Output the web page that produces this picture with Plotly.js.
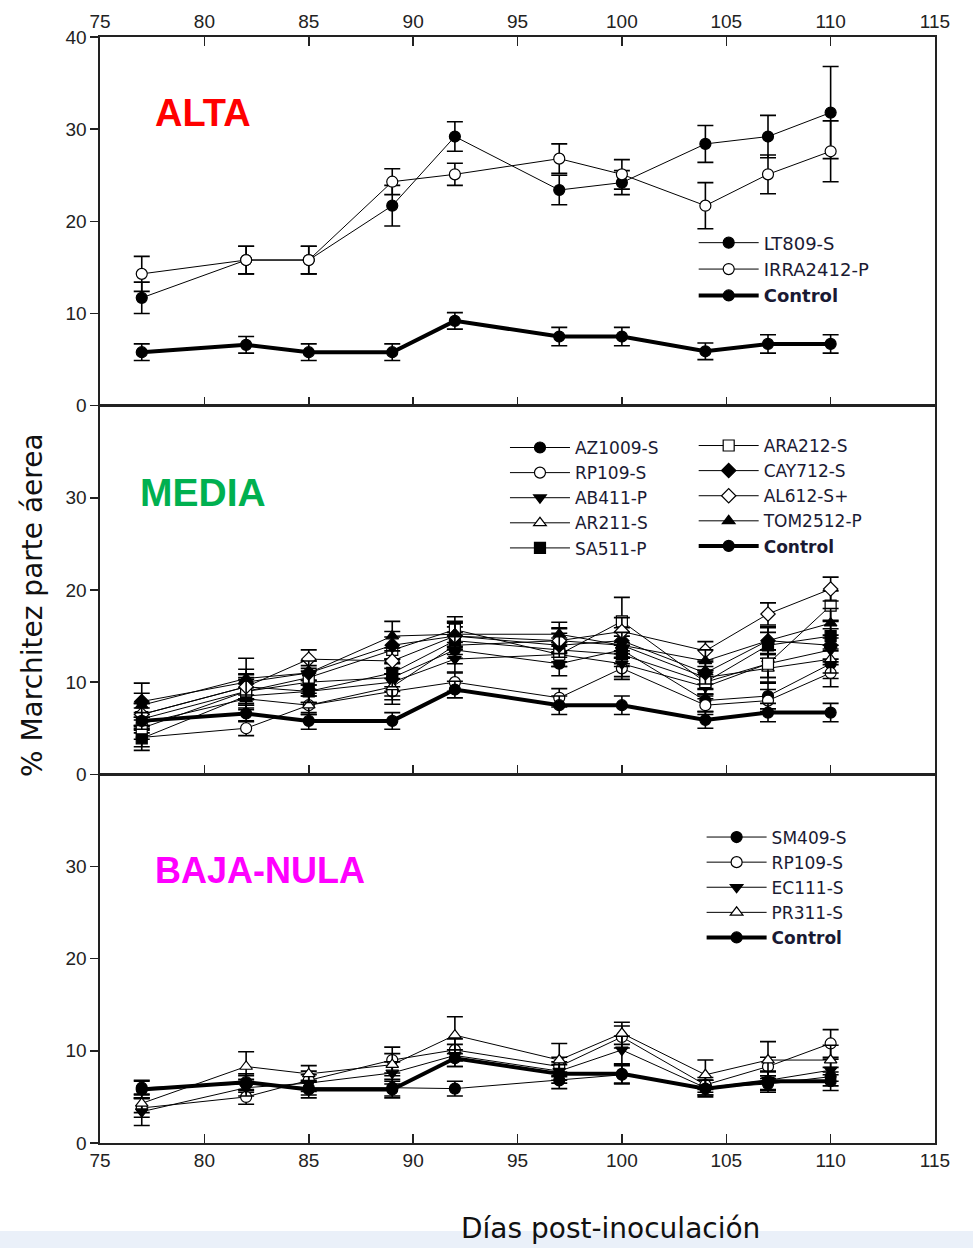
<!DOCTYPE html>
<html>
<head>
<meta charset="utf-8">
<script src="https://cdn.plot.ly/plotly-3.0.1.min.js"></script>
<style>html,body{margin:0;padding:0;background:#fff}#chart{width:973px;height:1248px}</style>
</head>
<body>
<div id="chart"></div>
<script>
// ---------- DATA ----------
const days = [77, 82, 85, 89, 92, 97, 100, 104, 107, 110];

// Control (same in every panel)
const control    = [5.8, 6.6, 5.8, 5.8, 9.2, 7.5, 7.5, 5.9, 6.7, 6.7];
const controlErr = [0.9, 0.9, 0.9, 0.9, 0.9, 1.0, 1.0, 0.9, 1.0, 1.0];

// Panel ALTA
const lt809      = [11.7, 15.8, 15.8, 21.7, 29.2, 23.4, 24.2, 28.4, 29.2, 31.8];
const lt809Err   = [1.7, 1.5, 1.5, 2.2, 1.6, 1.6, 1.3, 2.0, 2.3, 5.0];
const irra2412   = [14.3, 15.8, 15.8, 24.3, 25.1, 26.8, 25.1, 21.7, 25.1, 27.6];
const irra2412Err= [1.9, 1.5, 1.5, 1.4, 1.2, 1.6, 1.6, 2.5, 2.1, 3.3];

// Panel MEDIA
const az1009     = [6.0, 9.0, 10.0, 10.5, 13.5, 12.0, 13.5, 8.0, 8.5, 12.0];
const az1009Err  = [1.2, 1.5, 1.2, 1.5, 1.5, 1.3, 1.5, 1.2, 1.4, 1.6];
const rp109m     = [4.0, 5.0, 7.5, 9.0, 10.0, 8.3, 11.5, 7.5, 8.0, 11.0];
const rp109mErr  = [1.0, 0.8, 1.0, 1.4, 1.0, 1.0, 1.2, 1.0, 1.2, 1.5];
const ab411      = [6.5, 9.5, 9.0, 10.0, 12.5, 13.0, 12.0, 9.5, 12.0, 13.5];
const ab411Err   = [1.2, 1.4, 1.2, 1.5, 1.4, 1.3, 1.4, 1.3, 1.5, 1.6];
const ar211      = [5.5, 8.2, 7.5, 9.5, 14.0, 14.5, 14.0, 10.5, 11.5, 12.5];
const ar211Err   = [1.0, 1.2, 1.0, 1.4, 1.4, 1.3, 1.4, 1.2, 1.5, 1.5];
const sa511      = [3.9, 8.5, 9.0, 11.0, 14.5, 13.5, 13.0, 10.0, 14.0, 15.0];
const sa511Err   = [1.3, 1.3, 1.2, 1.5, 1.5, 1.3, 1.3, 1.3, 1.4, 1.6];
const ara212     = [5.0, 9.0, 10.5, 13.5, 15.7, 13.0, 16.6, 10.0, 12.0, 18.3];
const ara212Err  = [1.2, 1.3, 1.3, 1.4, 1.4, 1.3, 2.6, 1.3, 1.5, 1.6];
const cay712     = [7.9, 10.0, 11.0, 14.0, 15.0, 14.0, 14.5, 11.0, 14.5, 14.0];
const cay712Err  = [2.0, 1.4, 1.3, 1.5, 1.4, 1.3, 1.4, 1.2, 1.4, 1.8];
const al612      = [6.5, 9.5, 12.5, 12.3, 15.0, 14.5, 15.5, 13.4, 17.4, 20.1];
const al612Err   = [1.2, 1.3, 1.0, 1.4, 1.5, 1.4, 1.5, 1.0, 1.2, 1.3];
const tom2512    = [7.5, 10.4, 11.0, 15.0, 15.2, 15.2, 14.0, 12.3, 14.5, 16.4];
const tom2512Err = [1.3, 2.2, 1.3, 1.6, 1.4, 1.3, 1.4, 1.2, 1.5, 1.6];

// Panel BAJA-NULA
const sm409      = [6.0, 6.4, 6.0, 6.0, 5.9, 6.8, 7.4, 6.0, 6.4, 7.2];
const sm409Err   = [0.8, 0.9, 0.8, 0.9, 0.8, 0.9, 1.0, 0.8, 0.9, 1.0];
const rp109b     = [3.8, 5.0, 6.8, 9.0, 10.1, 8.3, 11.5, 6.3, 8.3, 10.8];
const rp109bErr  = [1.0, 0.8, 1.0, 1.4, 1.2, 1.0, 1.2, 0.8, 1.0, 1.5];
const ec111      = [3.4, 6.0, 6.5, 7.6, 9.5, 7.8, 10.1, 6.0, 6.8, 7.9];
const ec111Err   = [1.5, 0.9, 0.9, 1.2, 1.2, 1.0, 1.5, 0.8, 1.0, 1.2];
const pr311      = [4.3, 8.3, 7.5, 8.5, 11.7, 9.0, 11.9, 7.4, 9.0, 9.0];
const pr311Err   = [1.0, 1.6, 0.9, 1.2, 2.0, 1.8, 1.2, 1.6, 2.0, 1.6];

const xTicks = [75, 80, 85, 90, 95, 100, 105, 110, 115];
const yTicksTop = [0, 10, 20, 30, 40];
const yTicksLow = [0, 10, 20, 30];

// ---------- HELPERS ----------
function series(name, y, err, symbol, filled, xa, ya, legend, bold) {
  return {
    type: 'scatter', mode: 'lines+markers', name: bold ? '<b>' + name + '</b>' : name,
    x: days, y: y, xaxis: xa, yaxis: ya, legend: legend,
    line: {color: '#000', width: bold ? 4 : 1},
    marker: {symbol: symbol, size: 11, color: filled ? '#000' : '#fff',
             line: {color: '#000', width: 1.2}},
    error_y: {type: 'data', array: err, visible: true, color: '#000', thickness: 1.6, width: 8},
    hoverinfo: 'skip'
  };
}

const traces = [
  // ALTA
  series('LT809-S', lt809, lt809Err, 'circle', true, 'x3', 'y3', 'legend'),
  series('IRRA2412-P', irra2412, irra2412Err, 'circle', false, 'x3', 'y3', 'legend'),
  series('Control', control, controlErr, 'circle', true, 'x3', 'y3', 'legend', true),
  // MEDIA col 1
  series('AZ1009-S', az1009, az1009Err, 'circle', true, 'x2', 'y2', 'legend2'),
  series('RP109-S', rp109m, rp109mErr, 'circle', false, 'x2', 'y2', 'legend2'),
  series('AB411-P', ab411, ab411Err, 'triangle-down', true, 'x2', 'y2', 'legend2'),
  series('AR211-S', ar211, ar211Err, 'triangle-up', false, 'x2', 'y2', 'legend2'),
  series('SA511-P', sa511, sa511Err, 'square', true, 'x2', 'y2', 'legend2'),
  // MEDIA col 2
  series('ARA212-S', ara212, ara212Err, 'square', false, 'x2', 'y2', 'legend3'),
  series('CAY712-S', cay712, cay712Err, 'diamond', true, 'x2', 'y2', 'legend3'),
  series('AL612-S+', al612, al612Err, 'diamond', false, 'x2', 'y2', 'legend3'),
  series('TOM2512-P', tom2512, tom2512Err, 'triangle-up', true, 'x2', 'y2', 'legend3'),
  series('Control', control, controlErr, 'circle', true, 'x2', 'y2', 'legend3', true),
  // BAJA-NULA
  series('SM409-S', sm409, sm409Err, 'circle', true, 'x', 'y', 'legend4'),
  series('RP109-S', rp109b, rp109bErr, 'circle', false, 'x', 'y', 'legend4'),
  series('EC111-S', ec111, ec111Err, 'triangle-down', true, 'x', 'y', 'legend4'),
  series('PR311-S', pr311, pr311Err, 'triangle-up', false, 'x', 'y', 'legend4'),
  series('Control', control, controlErr, 'circle', true, 'x', 'y', 'legend4', true)
];

const tickFont = {family: '"Liberation Sans Narrow", "Arial Narrow", "Liberation Sans", Arial, sans-serif', size: 19, color: '#222'};
const legFamily = '"DejaVu Sans", "Liberation Sans", Arial, sans-serif';
const titleFont = {family: '"DejaVu Sans", "Liberation Sans", Arial, sans-serif', size: 27, color: '#111'};
const labelFamily = '"Liberation Sans", Arial, sans-serif';

const xBase = {range: [75, 115], tickvals: xTicks, ticks: 'inside', ticklen: 9, tickwidth: 1.5,
  tickcolor: '#222', showline: true, linecolor: '#222', linewidth: 1.6, showgrid: false,
  zeroline: false, tickfont: tickFont, fixedrange: true};
const yBase = {range: [0, 40], ticks: 'outside', ticklen: 8, tickwidth: 1.5, tickcolor: '#222',
  showline: true, linecolor: '#222', linewidth: 1.6, showgrid: false, zeroline: false,
  tickfont: tickFont, mirror: true, fixedrange: true};

function legendAt(x, y, size) {
  return {x: x, y: y, xanchor: 'left', yanchor: 'top', bgcolor: 'rgba(0,0,0,0)',
          borderwidth: 0, font: {family: legFamily, size: size, color: '#1a1a33'},
          itemwidth: 60, tracegroupgap: 0, traceorder: 'normal'};
}

const layout = {
  width: 973, height: 1248,
  margin: {l: 100, r: 38, t: 37, b: 105},
  paper_bgcolor: '#fff', plot_bgcolor: '#fff',
  showlegend: true,
  xaxis: Object.assign({}, xBase, {anchor: 'y', mirror: true, side: 'bottom'}),
  xaxis2: Object.assign({}, xBase, {anchor: 'y2', mirror: true, showticklabels: false, matches: 'x'}),
  xaxis3: Object.assign({}, xBase, {anchor: 'y3', mirror: 'ticks', side: 'top', matches: 'x'}),
  yaxis: Object.assign({}, yBase, {domain: [0, 1/3], tickvals: yTicksLow}),
  yaxis2: Object.assign({}, yBase, {domain: [1/3, 2/3], tickvals: yTicksLow}),
  yaxis3: Object.assign({}, yBase, {domain: [2/3, 1], tickvals: yTicksTop}),
  legend: legendAt(0.711, 0.8305, 18),
  legend2: legendAt(0.485, 0.6447, 17),
  legend3: legendAt(0.711, 0.6465, 17),
  legend4: legendAt(0.7205, 0.2925, 17),
  shapes: [{type: 'rect', xref: 'paper', yref: 'paper', x0: -0.13, x1: 1.05,
            y0: -0.0955, y1: -0.0795, fillcolor: '#eaf0f9', line: {width: 0}, layer: 'below'}],
  annotations: [
    {text: '<b>ALTA</b>', xref: 'paper', yref: 'paper', x: 0.1234, y: 0.931,
     xanchor: 'center', yanchor: 'middle', showarrow: false,
     font: {family: labelFamily, size: 38, color: '#ff0000'}},
    {text: '<b>MEDIA</b>', xref: 'paper', yref: 'paper', x: 0.1234, y: 0.5886,
     xanchor: 'center', yanchor: 'middle', showarrow: false,
     font: {family: labelFamily, size: 39, color: '#00b050'}},
    {text: '<b>BAJA-NULA</b>', xref: 'paper', yref: 'paper', x: 0.1916, y: 0.2468,
     xanchor: 'center', yanchor: 'middle', showarrow: false,
     font: {family: labelFamily, size: 36, color: '#ff00ff'}},
    {text: '% Marchitez parte áerea', xref: 'paper', yref: 'paper', x: -0.0814, y: 0.4864,
     xanchor: 'center', yanchor: 'middle', textangle: -90, showarrow: false,
     font: {family: titleFont.family, size: 28, color: '#111'}},
    {text: 'Días post-inoculación', xref: 'paper', yref: 'paper', x: 0.611, y: -0.0769,
     xanchor: 'center', yanchor: 'middle', showarrow: false,
     font: {family: titleFont.family, size: 28, color: '#111'}}
  ]
};

Plotly.newPlot('chart', traces, layout, {staticPlot: true, displayModeBar: false});
</script>
</body>
</html>
